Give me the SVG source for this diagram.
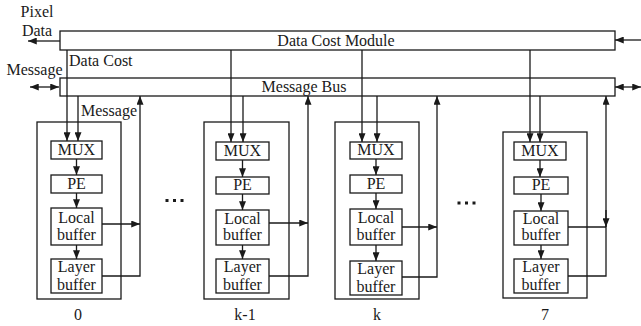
<svg xmlns="http://www.w3.org/2000/svg" width="641" height="326" viewBox="0 0 641 326">
  <defs>
    <marker id="ah" viewBox="0 0 10 8" refX="10" refY="4" markerWidth="9" markerHeight="7" markerUnits="userSpaceOnUse" orient="auto-start-reverse">
      <path d="M0,0 L10,4 L0,8 Z" fill="#1a1a1a"/>
    </marker>
  </defs>
  <style>
    rect { fill: #fff; stroke: #1a1a1a; stroke-width: 1.3; }
    .ln { fill: none; stroke: #1a1a1a; stroke-width: 1.3; }
    text { font-family: "Liberation Serif", "Times New Roman", serif; font-size: 16px; fill: #1a1a1a; }
    .c { text-anchor: middle; }
    .dot { fill: #1a1a1a; }
  </style>

  <rect x="0" y="0" width="641" height="326" style="fill:#fff;stroke:none"/>

  <!-- shared buses -->
  <g id="data-cost-module">
    <rect x="60" y="31" width="555" height="19"/>
    <text class="c" x="336" y="46">Data Cost Module</text>
  </g>
  <g id="message-bus">
    <rect x="60" y="78" width="555" height="18"/>
    <text class="c" x="304" y="92">Message Bus</text>
  </g>

  <!-- processing elements -->
  <g id="pe-0">
    <rect x="37" y="122" width="84" height="177"/>
    <g id="pe-0-mux"><rect x="51" y="141" width="51" height="18"/><text class="c" x="76.5" y="155">MUX</text></g>
    <g id="pe-0-pe"><rect x="51" y="175" width="51" height="18"/><text class="c" x="76.5" y="189">PE</text></g>
    <g id="pe-0-local"><rect x="51" y="208" width="51" height="37"/><text class="c" x="76.5" y="223">Local</text><text class="c" x="76.5" y="240">buffer</text></g>
    <g id="pe-0-layer"><rect x="51" y="259" width="51" height="34"/><text class="c" x="76.5" y="272">Layer</text><text class="c" x="76.5" y="290">buffer</text></g>
    <text class="c" x="78" y="320">0</text>
  </g>

  <g id="pe-k-1">
    <rect x="204" y="122" width="85" height="177"/>
    <g id="pe-k-1-mux"><rect x="216" y="142" width="53" height="18"/><text class="c" x="242.5" y="156">MUX</text></g>
    <g id="pe-k-1-pe"><rect x="216" y="177" width="53" height="17"/><text class="c" x="242.5" y="190">PE</text></g>
    <g id="pe-k-1-local"><rect x="216" y="210" width="53" height="35"/><text class="c" x="242.5" y="224">Local</text><text class="c" x="242.5" y="240">buffer</text></g>
    <g id="pe-k-1-layer"><rect x="216" y="259" width="53" height="34"/><text class="c" x="242.5" y="272">Layer</text><text class="c" x="242.5" y="290">buffer</text></g>
    <text class="c" x="245" y="320">k-1</text>
  </g>

  <g id="pe-k">
    <rect x="335" y="122" width="84" height="177"/>
    <g id="pe-k-mux"><rect x="350" y="142" width="52" height="17"/><text class="c" x="376" y="155">MUX</text></g>
    <g id="pe-k-pe"><rect x="350" y="175" width="52" height="18"/><text class="c" x="376" y="189">PE</text></g>
    <g id="pe-k-local"><rect x="350" y="209" width="52" height="36"/><text class="c" x="376" y="223">Local</text><text class="c" x="376" y="240">buffer</text></g>
    <g id="pe-k-layer"><rect x="350" y="261" width="52" height="34"/><text class="c" x="376" y="274">Layer</text><text class="c" x="376" y="292">buffer</text></g>
    <text class="c" x="377" y="320">k</text>
  </g>

  <g id="pe-7">
    <rect x="503" y="132" width="84" height="166"/>
    <g id="pe-7-mux"><rect x="514" y="142" width="52" height="18"/><text class="c" x="540" y="156">MUX</text></g>
    <g id="pe-7-pe"><rect x="514" y="177" width="54" height="17"/><text class="c" x="541" y="190">PE</text></g>
    <g id="pe-7-local"><rect x="514" y="211" width="54" height="34"/><text class="c" x="541" y="224">Local</text><text class="c" x="541" y="240">buffer</text></g>
    <g id="pe-7-layer"><rect x="514" y="259" width="54" height="34"/><text class="c" x="541" y="272">Layer</text><text class="c" x="541" y="290">buffer</text></g>
    <text class="c" x="545" y="320">7</text>
  </g>

  <!-- ellipses between elements -->
  <g id="gap-left">
    <rect class="dot" x="165.5" y="199" width="3" height="3" style="stroke:none;fill:#1a1a1a"/>
    <rect class="dot" x="173" y="199" width="3" height="3" style="stroke:none;fill:#1a1a1a"/>
    <rect class="dot" x="180.5" y="199" width="3" height="3" style="stroke:none;fill:#1a1a1a"/>
  </g>
  <g id="gap-right">
    <rect class="dot" x="457.5" y="201.5" width="3" height="3" style="stroke:none;fill:#1a1a1a"/>
    <rect class="dot" x="465" y="201.5" width="3" height="3" style="stroke:none;fill:#1a1a1a"/>
    <rect class="dot" x="472.5" y="201.5" width="3" height="3" style="stroke:none;fill:#1a1a1a"/>
  </g>

  <!-- free labels -->
  <g id="labels">
    <text class="c" x="37" y="17">Pixel</text>
    <text class="c" x="37" y="36">Data</text>
    <text class="c" x="34.5" y="75">Message</text>
    <text x="69" y="66">Data Cost</text>
    <text x="81" y="116">Message</text>
  </g>

  <!-- connectors -->
  <g id="connectors" class="ln">
    <!-- external ports -->
    <path class="ln" d="M60,41 H28" marker-end="url(#ah)"/>
    <path class="ln" d="M641,40 H615" marker-end="url(#ah)"/>
    <path class="ln" d="M30,87 H59" marker-start="url(#ah)" marker-end="url(#ah)"/>
    <path class="ln" d="M615,87 H641" marker-start="url(#ah)" marker-end="url(#ah)"/>

    <!-- element 0 -->
    <path class="ln" d="M67,50 V141" marker-end="url(#ah)"/>
    <path class="ln" d="M78,96 V141" marker-end="url(#ah)"/>
    <path class="ln" d="M76.5,159 V175" marker-end="url(#ah)"/>
    <path class="ln" d="M76.5,193 V208" marker-end="url(#ah)"/>
    <path class="ln" d="M76.5,245 V259" marker-end="url(#ah)"/>
    <path class="ln" d="M102,224 H140" marker-end="url(#ah)"/>
    <path class="ln" d="M102,276 H140 V96" marker-end="url(#ah)"/>

    <!-- element k-1 -->
    <path class="ln" d="M231,50 V142" marker-end="url(#ah)"/>
    <path class="ln" d="M243,96 V142" marker-end="url(#ah)"/>
    <path class="ln" d="M242.5,160 V177" marker-end="url(#ah)"/>
    <path class="ln" d="M242.5,194 V210" marker-end="url(#ah)"/>
    <path class="ln" d="M242.5,245 V259" marker-end="url(#ah)"/>
    <path class="ln" d="M269,223 H308" marker-end="url(#ah)"/>
    <path class="ln" d="M269,276 H308 V96" marker-end="url(#ah)"/>

    <!-- element k -->
    <path class="ln" d="M362,50 V142" marker-end="url(#ah)"/>
    <path class="ln" d="M377,96 V142" marker-end="url(#ah)"/>
    <path class="ln" d="M376,159 V175" marker-end="url(#ah)"/>
    <path class="ln" d="M376,193 V209" marker-end="url(#ah)"/>
    <path class="ln" d="M376,245 V261" marker-end="url(#ah)"/>
    <path class="ln" d="M402,227 H437" marker-end="url(#ah)"/>
    <path class="ln" d="M402,277 H437 V96" marker-end="url(#ah)"/>

    <!-- element 7 -->
    <path class="ln" d="M530,50 V142" marker-end="url(#ah)"/>
    <path class="ln" d="M540,96 V142" marker-end="url(#ah)"/>
    <path class="ln" d="M540,160 V177" marker-end="url(#ah)"/>
    <path class="ln" d="M541,194 V211" marker-end="url(#ah)"/>
    <path class="ln" d="M541,245 V259" marker-end="url(#ah)"/>
    <path class="ln" d="M568,227 H606"/>
    <path class="ln" d="M568,276 H606 V96" marker-end="url(#ah)"/>
    <path class="ln" d="M606,210 V227" marker-end="url(#ah)"/>
  </g>
</svg>
